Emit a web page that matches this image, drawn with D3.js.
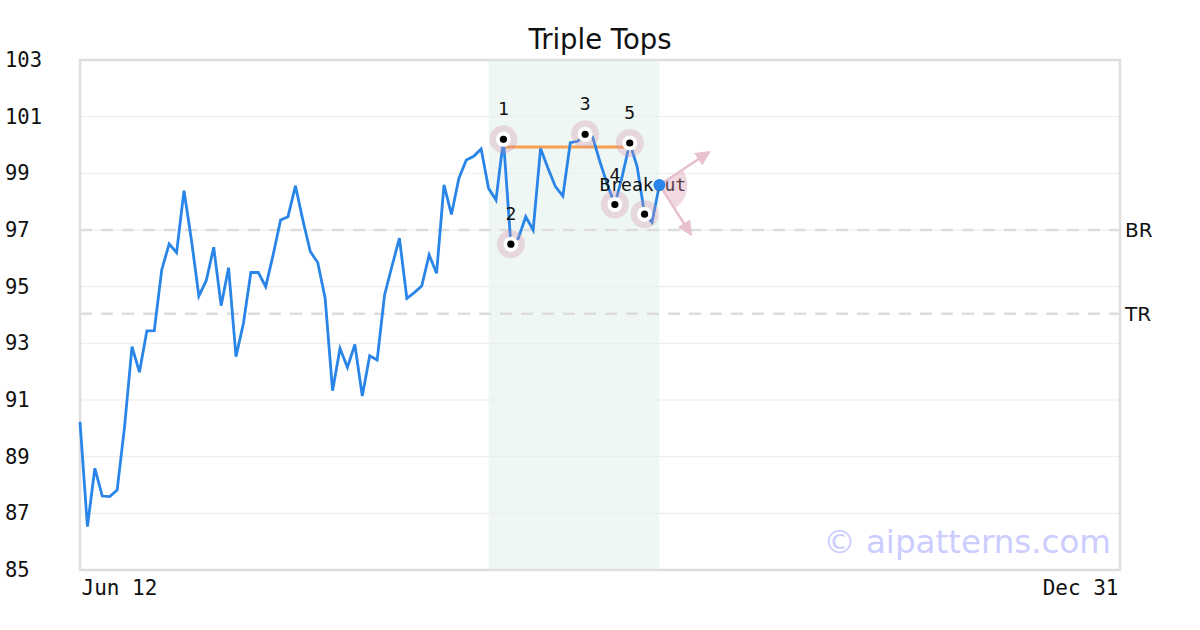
<!DOCTYPE html>
<html><head><meta charset="utf-8">
<script src="https://cdn.jsdelivr.net/npm/d3@7/dist/d3.min.js"></script>
<style>body{margin:0;background:#fff}svg{display:block}</style>
</head><body>
<svg id="c" width="1200" height="630"></svg>
<script>
const title = "Triple Tops";
const prices = [90.23,86.53,88.59,87.61,87.59,87.82,90.06,92.88,91.98,93.44,
  93.45,95.59,96.51,96.2,98.39,96.65,94.67,95.22,96.39,94.33,
  95.67,92.53,93.71,95.5,95.5,95.0,96.12,97.35,97.47,98.56,
  97.35,96.24,95.85,94.59,91.33,92.82,92.15,92.96,91.14,92.56,
  92.41,94.71,95.73,96.71,94.59,94.79,95.02,96.12,95.47,98.59,
  97.55,98.82,99.47,99.6,99.86,98.47,98.06,100.2,96.5,96.7,
  97.47,97.0,99.88,99.18,98.53,98.2,100.08,100.13,100.38,100.29,
  99.4,98.6,97.9,98.9,100.07,99.24,97.56,97.27,98.59];
const xTickLabels = ["Jun 12","Dec 31"];
const xTickIndex = [0,140];
const yTicks = [85,87,89,91,93,95,97,99,101,103];
const pivotIndex = [57,58,68,72,74,76];
const pivotLabels = ["1","2","3","4","5",""];
const breakoutIndex = 78;
const breakoutLabel = "Breakout";
const patternRange = [55,78];
const resistance = {from:57,to:74,value:99.93};
const refLines = [{label:"BR",value:97.0},{label:"TR",value:94.04}];
const watermark = "© aipatterns.com";

const svg = d3.select("#c");
const L=80,R=1120,T=60,B=570;
const x = d3.scaleLinear().domain([0,140]).range([L,R]);
const y = d3.scaleLinear().domain([85,103]).range([B,T]);

svg.append("rect").attr("x",x(patternRange[0])).attr("y",T)
  .attr("width",x(patternRange[1])-x(patternRange[0])).attr("height",B-T)
  .attr("fill","#eff7f4");

svg.append("g").selectAll("line").data(yTicks.slice(1,-1)).join("line")
  .attr("x1",L).attr("x2",R).attr("y1",d=>y(d)).attr("y2",d=>y(d))
  .attr("stroke","#ebebeb").attr("stroke-width",1);

const rl = svg.append("g");
rl.selectAll("line").data(refLines).join("line")
  .attr("x1",L).attr("x2",R).attr("y1",d=>y(d.value)).attr("y2",d=>y(d.value))
  .attr("stroke","#dddddd").attr("stroke-width",2.5).attr("stroke-dasharray","12,9");
rl.selectAll("text").data(refLines).join("text")
  .attr("x",R+5).attr("y",d=>y(d.value)).attr("dy","0.35em")
  .attr("font-family","DejaVu Sans").attr("font-size",20).attr("fill","#111")
  .text(d=>d.label);

svg.append("rect").attr("x",L).attr("y",T).attr("width",R-L).attr("height",B-T)
  .attr("fill","none").attr("stroke","#dedede").attr("stroke-width",2.5);

const yAxis = d3.axisLeft(y).tickValues(yTicks).tickSize(0).tickPadding(0);
const ya = svg.append("g").attr("transform",`translate(${L},0)`).call(yAxis);
ya.select(".domain").remove();
ya.selectAll("text").attr("x",5-L).attr("text-anchor","start")
  .attr("font-family","DejaVu Sans Mono").attr("font-size",20.5).attr("fill","#111");

const xAxis = d3.axisBottom(x).tickValues(xTickIndex).tickFormat((d,i)=>xTickLabels[i]).tickSize(0).tickPadding(0);
const xa = svg.append("g").attr("transform",`translate(0,${B})`).call(xAxis);
xa.select(".domain").remove();
xa.selectAll("text").attr("y",25).attr("dy",0)
  .attr("x",(d,i)=>i===0?1:-2)
  .attr("text-anchor",(d,i)=>i===0?"start":"end")
  .attr("font-family","DejaVu Sans Mono").attr("font-size",21).attr("fill","#111");

svg.append("text").attr("x",600).attr("y",49).attr("text-anchor","middle")
  .attr("font-family","DejaVu Sans").attr("font-size",27.5).attr("fill","#111").text(title);

svg.append("text").attr("x",1111).attr("y",553).attr("text-anchor","end")
  .attr("font-family","DejaVu Sans").attr("font-size",32.5).attr("fill","#ccccff").text(watermark);

svg.append("line").attr("x1",x(resistance.from)).attr("x2",x(resistance.to))
  .attr("y1",y(resistance.value)).attr("y2",y(resistance.value))
  .attr("stroke","#f7a050").attr("stroke-width",3);

const line = d3.line().x((d,i)=>x(i)).y(d=>y(d));
svg.append("path").datum(prices).attr("d",line).attr("fill","none")
  .attr("stroke","#2a85e8").attr("stroke-width",2.8).attr("stroke-linejoin","miter");

svg.append("g").selectAll("text").data(pivotIndex).join("text")
  .attr("x",d=>x(d)).attr("y",d=>y(prices[d])-24).attr("text-anchor","middle")
  .attr("font-family","DejaVu Sans Mono").attr("font-size",18).attr("fill","#111")
  .text((d,i)=>pivotLabels[i]);

const bx = x(breakoutIndex), by = y(prices[breakoutIndex]);
svg.append("text").attr("x",bx-60).attr("y",by+6)
  .attr("font-family","DejaVu Sans Mono").attr("font-size",18).attr("fill","#111").text(breakoutLabel);

const pm = svg.append("g").selectAll("g").data(pivotIndex).join("g")
  .attr("transform",d=>`translate(${x(d)},${y(prices[d])})`);
pm.append("circle").attr("r",14).attr("fill","#d090a8").attr("fill-opacity",0.3);
pm.append("circle").attr("r",7.5).attr("fill","#fff");
pm.append("circle").attr("r",3.6).attr("fill","#000");

const a1 = -33.5*Math.PI/180, a2 = 57.5*Math.PI/180;
const arc = d3.arc().innerRadius(0).outerRadius(28)
  .startAngle(a1+Math.PI/2).endAngle(a2+Math.PI/2);
svg.append("path").attr("d",arc()).attr("transform",`translate(${bx},${by})`)
  .attr("fill","#d890aa").attr("fill-opacity",0.35);
const defs = svg.append("defs");
defs.append("marker").attr("id","ah").attr("viewBox","0 0 10 10").attr("refX",9).attr("refY",5)
  .attr("markerWidth",6).attr("markerHeight",6).attr("markerUnits","strokeWidth").attr("orient","auto")
  .append("path").attr("d","M0,0L10,5L0,10Z").attr("fill","#e8c0ce");
[[a1,60],[a2,59]].forEach(([a,len])=>{
  svg.append("line").attr("x1",bx).attr("y1",by)
    .attr("x2",bx+len*Math.cos(a)).attr("y2",by+len*Math.sin(a))
    .attr("stroke","#e8c0ce").attr("stroke-width",2.5).attr("marker-end","url(#ah)");
});
svg.append("circle").attr("cx",bx).attr("cy",by).attr("r",6).attr("fill","#2a85e8");
</script>
</body></html>
